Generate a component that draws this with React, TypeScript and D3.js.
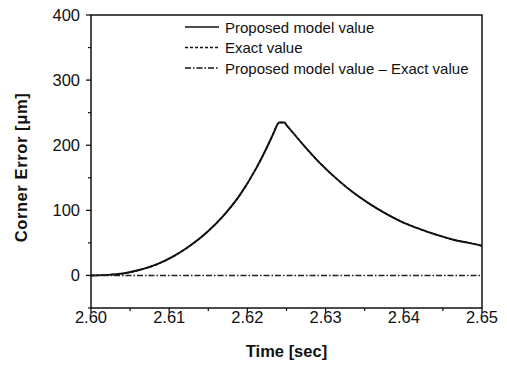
import React from "react";
import * as d3 from "d3";

const timeValues = [2.6, 2.602, 2.6041, 2.60627, 2.6084, 2.61052, 2.61266, 2.61479, 2.61692, 2.61905, 2.62119, 2.62332, 2.6238, 2.62405, 2.62472, 2.625, 2.62715, 2.62928, 2.63142, 2.63354, 2.63568, 2.63781, 2.63994, 2.64207, 2.64421, 2.64633, 2.64847, 2.65];
const modelValues = [0, 0.8, 3, 8.7, 16.9, 29.2, 45.6, 66, 91.6, 123.8, 166, 218, 231, 235, 235, 231, 200.5, 172.4, 148.3, 127.3, 109.5, 94.2, 81.3, 71.2, 62.4, 54.8, 49.7, 45.5];
const exactValues = [0, 0.8, 3, 8.7, 16.9, 29.2, 45.6, 66, 91.6, 123.8, 166, 218, 231, 235, 235, 231, 200.5, 172.4, 148.3, 127.3, 109.5, 94.2, 81.3, 71.2, 62.4, 54.8, 49.7, 45.5];
const diffTimes = [2.6, 2.65];
const diffValues = [0, 0];
const xTicks = [2.6, 2.61, 2.62, 2.63, 2.64, 2.65];
const yTicks = [0, 100, 200, 300, 400];
const xMinor = [2.605, 2.615, 2.625, 2.635, 2.645];
const yMinor = [-50, 50, 150, 250, 350];
const legendLabels = ["Proposed model value", "Exact value", "Proposed model value \u2013 Exact value"];

export default function App() {
  const left = 91, right = 482, top = 15, bottom = 308;
  const x = d3.scaleLinear().domain([2.6, 2.65]).range([left, right]);
  const y = d3.scaleLinear().domain([-50, 400]).range([bottom, top]);
  const line = d3.line<[number, number]>().x(d => x(d[0])).y(d => y(d[1])).curve(d3.curveMonotoneX);
  const model = timeValues.map((t, i) => [t, modelValues[i]] as [number, number]);
  const exact = timeValues.map((t, i) => [t, exactValues[i]] as [number, number]);
  const diff = diffTimes.map((t, i) => [t, diffValues[i]] as [number, number]);
  const font = "'Liberation Sans', Arial, sans-serif";
  const dashes = ["none", "3,2", "6,2,1.5,2"];
  return (
    <svg width={507} height={366} style={{ position: "absolute", left: 0, top: 0, background: "#fff" }} fontFamily={font}>
      <rect x={0} y={0} width={507} height={366} fill="#fff" />
      <path d={line(exact) || ""} fill="none" stroke="#111" strokeWidth={1.6} strokeDasharray="3,2" />
      <path d={line(model) || ""} fill="none" stroke="#111" strokeWidth={1.9} />
      <path d={line(diff) || ""} fill="none" stroke="#222" strokeWidth={1.4} strokeDasharray="6,2,1.5,2" />
      <rect x={left} y={top} width={right - left} height={bottom - top} fill="none" stroke="#111" strokeWidth={1.5} />
      {xTicks.map(t => (
        <g key={"xt" + t}>
          <line x1={x(t)} x2={x(t)} y1={bottom} y2={bottom + 5} stroke="#111" strokeWidth={1.3} />
          <text x={x(t)} y={323} fontSize={16.5} textAnchor="middle" fill="#111">{t.toFixed(2)}</text>
        </g>
      ))}
      {xMinor.map(t => (
        <line key={"xm" + t} x1={x(t)} x2={x(t)} y1={bottom} y2={bottom + 3} stroke="#111" strokeWidth={1.2} />
      ))}
      {yTicks.map(v => (
        <g key={"yt" + v}>
          <line x1={left - 5} x2={left} y1={y(v)} y2={y(v)} stroke="#111" strokeWidth={1.3} />
          <text x={80} y={y(v) + 6} fontSize={16.5} textAnchor="end" fill="#111">{v}</text>
        </g>
      ))}
      {yMinor.map(v => (
        <line key={"ym" + v} x1={left - 3} x2={left} y1={y(v)} y2={y(v)} stroke="#111" strokeWidth={1.2} />
      ))}
      <text x={(left + right) / 2} y={357} fontSize={16.5} fontWeight="bold" textAnchor="middle" fill="#111">Time [sec]</text>
      <text transform={`translate(27,${(top + bottom) / 2 + 6}) rotate(-90)`} fontSize={16.5} fontWeight="bold" textAnchor="middle" fill="#111" letterSpacing={0.6}>Corner Error [{"\u03bc"}m]</text>
      {legendLabels.map((lab, i) => (
        <g key={lab}>
          <line x1={185} x2={219} y1={27 + i * 20.5} y2={27 + i * 20.5} stroke="#111" strokeWidth={1.5} strokeDasharray={dashes[i]} />
          <text x={225} y={32.5 + i * 20.5} fontSize={15} fill="#111">{lab}</text>
        </g>
      ))}
    </svg>
  );
}
